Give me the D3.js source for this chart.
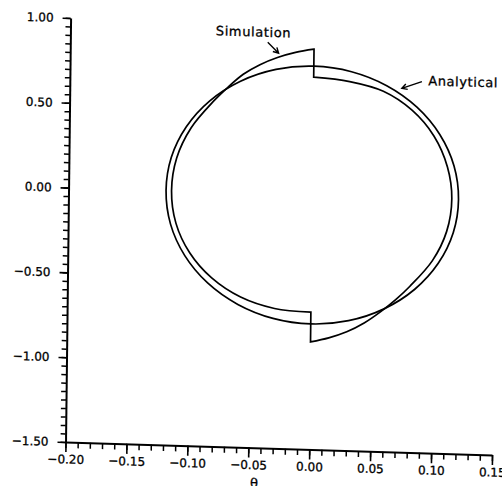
<!DOCTYPE html>
<html>
<head>
<meta charset="utf-8">
<script src="https://cdn.jsdelivr.net/npm/d3@7"></script>
<style>
  body { margin: 0; background: #fff; }
  svg { display: block; }
  text { font-family: "DejaVu Sans", sans-serif; fill: #000; stroke: #000; stroke-width: 0.3px; }
</style>
</head>
<body>
<svg id="chart" width="502" height="486"></svg>
<script>
// ---- axis ticks ----
const xMajorTicks = [-0.20, -0.15, -0.10, -0.05, 0.00, 0.05, 0.10, 0.15];
const yMajorTicks = [-1.50, -1.00, -0.50, 0.00, 0.50, 1.00];
const xAxisTitle = "θ";

// ---- analytical limit cycle (θ, dθ/dt) ----
const analyticalTheta = [0.120, 0.116, 0.104, 0.085, 0.060, 0.031, 0.000, -0.031, -0.060, -0.085, -0.104, -0.116,
                         -0.120, -0.116, -0.104, -0.085, -0.060, -0.031, 0.000, 0.031, 0.060, 0.085, 0.104, 0.116];
const analyticalRate  = [0.000, 0.197, 0.380, 0.537, 0.658, 0.734, 0.760, 0.734, 0.658, 0.537, 0.380, 0.197,
                         0.000, -0.197, -0.380, -0.537, -0.658, -0.734, -0.760, -0.734, -0.658, -0.537, -0.380, -0.197];

// ---- simulated trajectory, branch with θ < 0 (top jump -> bottom jump) ----
const simLeftTheta = [0.000, -0.0151, -0.0299, -0.0442, -0.0578, -0.0703, -0.0817, -0.1000, -0.1116, -0.1155,
                      -0.1116, -0.1000, -0.0817, -0.0578, -0.0299, 0.000];
const simLeftRate  = [0.860, 0.838, 0.8045, 0.759, 0.6995, 0.620, 0.537, 0.375, 0.194, 0.000,
                      -0.190, -0.3625, -0.507, -0.6145, -0.6755, -0.690];

// ---- simulated trajectory, branch with θ > 0 (bottom jump -> top jump) ----
const simRightTheta = [0.000, 0.0149, 0.0296, 0.0438, 0.0573, 0.0697, 0.0810, 0.0992, 0.1106, 0.1145,
                       0.1106, 0.0992, 0.0810, 0.0573, 0.0296, 0.000];
const simRightRate  = [-0.866, -0.839, -0.800, -0.745, -0.675, -0.600, -0.520, -0.365, -0.190, 0.005,
                       0.190, 0.370, 0.518, 0.6245, 0.6755, 0.695];

// ---- curve labels and the points their arrows touch ----
const noteLabels = ["Simulation", "Analytical"];
const noteTheta  = [-0.029, 0.0724];
const noteRate   = [0.830, 0.645];

// ---- layout ----
const svg = d3.select("#chart");
const W = 426.5, H = 424;

const x = d3.scaleLinear().domain([-0.20, 0.15]).range([0, W]);
const y = d3.scaleLinear().domain([-1.50, 1.00]).range([H, 0]);

svg.append("rect").attr("width", 502).attr("height", 486).attr("fill", "#fff");

// plot frame sits slightly skewed on the page
const g = svg.append("g")
  .attr("transform", "matrix(1,0.0305,-0.012,1,70.6,18)");

const fmt = d3.format(".2f");

// x axis: minor ticks every 0.01, labelled ticks every 0.05
g.append("g")
  .attr("transform", `translate(0,${H})`)
  .call(d3.axisBottom(x).tickValues(d3.range(-20, 16).map(i => i / 100))
        .tickSize(6).tickSizeOuter(0).tickFormat(""))
  .call(a => a.select(".domain").remove())
  .call(a => a.selectAll("line").attr("stroke-width", 1.5));

const gx = g.append("g")
  .attr("transform", `translate(0,${H})`)
  .call(d3.axisBottom(x).tickValues(xMajorTicks).tickSize(10).tickSizeOuter(0)
        .tickPadding(3).tickFormat(fmt));
gx.attr("font-family", null).attr("font-size", null);
gx.select(".domain").attr("stroke-width", 2);
gx.selectAll("line").attr("stroke-width", 1.6);
gx.selectAll("text").style("font-size", "12px");

// y axis: minor ticks every 0.05, labelled ticks every 0.50
g.append("g")
  .call(d3.axisLeft(y).tickValues(d3.range(-30, 21).map(i => i * 0.05))
        .tickSize(5).tickSizeOuter(0).tickFormat(""))
  .call(a => a.select(".domain").remove())
  .call(a => a.selectAll("line").attr("stroke-width", 1.5));

const gy = g.append("g")
  .call(d3.axisLeft(y).tickValues(yMajorTicks).tickSize(8).tickSizeOuter(0)
        .tickPadding(9).tickFormat(fmt));
gy.attr("font-family", null).attr("font-size", null);
gy.select(".domain").attr("stroke-width", 2);
gy.selectAll("line").attr("stroke-width", 1.6);
gy.selectAll("text").style("font-size", "12px");

// x axis title
g.append("text")
  .attr("x", x(-0.045)).attr("y", H + 40)
  .attr("text-anchor", "middle")
  .style("font-size", "13px")
  .text(xAxisTitle);

// ---- curves ----
const toPts = (ts, vs) => ts.map((t, i) => [t, vs[i]]);

const closedLine = d3.line().x(d => x(d[0])).y(d => y(d[1])).curve(d3.curveCatmullRomClosed);
const openLine = d3.line().x(d => x(d[0])).y(d => y(d[1])).curve(d3.curveCatmullRom);

g.append("path")
  .attr("d", closedLine(toPts(analyticalTheta, analyticalRate)))
  .attr("fill", "none").attr("stroke", "#000").attr("stroke-width", 1.7);

// simulated orbit: two smooth branches joined by the vertical jumps at θ = 0
const leftPath = openLine(toPts(simLeftTheta, simLeftRate));
const rightPath = openLine(toPts(simRightTheta, simRightRate)).replace(/^M/, "L");
g.append("path")
  .attr("d", leftPath + rightPath + "Z")
  .attr("fill", "none").attr("stroke", "#000").attr("stroke-width", 1.7)
  .attr("stroke-linejoin", "miter");

// ---- annotations ----
const noteTail = [[-11, -10.5], [20, -7.3]];
const noteText = [[-63, -16], [26.3, -3.8]];

noteLabels.forEach((label, i) => {
  const tx = x(noteTheta[i]), ty = y(noteRate[i]);
  const sx = tx + noteTail[i][0], sy = ty + noteTail[i][1];
  const len = Math.hypot(tx - sx, ty - sy);
  const ux = (tx - sx) / len, uy = (ty - sy) / len;
  const head = 6, ang = 0.5;
  const rot = (a) => [ux * Math.cos(a) - uy * Math.sin(a), ux * Math.sin(a) + uy * Math.cos(a)];
  const r1 = rot(ang), r2 = rot(-ang);
  g.append("path")
    .attr("d", `M${sx},${sy}L${tx},${ty}M${tx - head * r1[0]},${ty - head * r1[1]}L${tx},${ty}L${tx - head * r2[0]},${ty - head * r2[1]}`)
    .attr("fill", "none").attr("stroke", "#000").attr("stroke-width", 1.4);
  g.append("text")
    .attr("x", tx + noteText[i][0]).attr("y", ty + noteText[i][1])
    .style("font-size", "13px")
    .style("letter-spacing", "0.6px")
    .text(label);
});
</script>
</body>
</html>
